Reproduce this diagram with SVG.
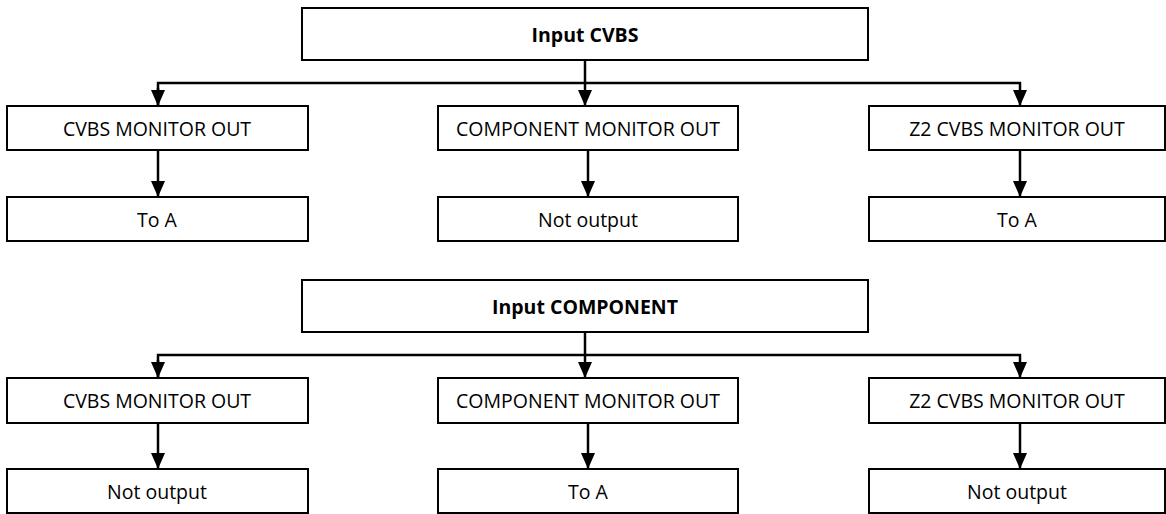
<svg xmlns="http://www.w3.org/2000/svg" width="1166" height="514" viewBox="0 0 1166 514">
<defs>
<style>
.box{fill:#fff;stroke:#000;stroke-width:2}
.t{font-family:"Open Sans","Liberation Sans",sans-serif;font-size:19.5px;fill:#000;text-anchor:middle}
.b{font-weight:bold;font-size:19.5px}
.c{fill:none;stroke:#000;stroke-width:2.5}
</style>
<marker id="ah" markerUnits="userSpaceOnUse" markerWidth="16" markerHeight="14" refX="16" refY="7" orient="auto">
<path d="M0,0 L16,7 L0,14 z" fill="#000"/>
</marker>
</defs>
<g id="connectors">
<path class="c" d="M585,60 V106" marker-end="url(#ah)"/>
<path class="c" d="M158,106 V83 H1020 V106" marker-end="url(#ah)"/>
<path class="c" d="M158,88 V106" marker-end="url(#ah)"/>
<path class="c" d="M158,150 V197" marker-end="url(#ah)"/>
<path class="c" d="M588,150 V197" marker-end="url(#ah)"/>
<path class="c" d="M1020,150 V197" marker-end="url(#ah)"/>
<path class="c" d="M585,332 V378" marker-end="url(#ah)"/>
<path class="c" d="M158,378 V355 H1020 V378" marker-end="url(#ah)"/>
<path class="c" d="M158,360 V378" marker-end="url(#ah)"/>
<path class="c" d="M158,423 V469" marker-end="url(#ah)"/>
<path class="c" d="M588,423 V469" marker-end="url(#ah)"/>
<path class="c" d="M1020,423 V469" marker-end="url(#ah)"/>
</g>
<g id="in1"><rect class="box" x="302" y="8" width="566" height="52"/><text class="t b" x="585" y="42">Input CVBS</text></g>
<g id="a1"><rect class="box" x="7" y="106" width="301" height="44"/><text class="t" x="157" y="136">CVBS MONITOR OUT</text></g>
<g id="b1"><rect class="box" x="438" y="106" width="300" height="44"/><text class="t" x="588" y="136">COMPONENT MONITOR OUT</text></g>
<g id="c1"><rect class="box" x="869" y="106" width="296" height="44"/><text class="t" x="1017" y="136">Z2 CVBS MONITOR OUT</text></g>
<g id="a1o"><rect class="box" x="7" y="197" width="301" height="44"/><text class="t" x="157" y="227">To A</text></g>
<g id="b1o"><rect class="box" x="438" y="197" width="300" height="44"/><text class="t" x="588" y="227">Not output</text></g>
<g id="c1o"><rect class="box" x="869" y="197" width="296" height="44"/><text class="t" x="1017" y="227">To A</text></g>
<g id="in2"><rect class="box" x="302" y="280" width="566" height="52"/><text class="t b" x="585" y="314">Input COMPONENT</text></g>
<g id="a2"><rect class="box" x="7" y="378" width="301" height="45"/><text class="t" x="157" y="408">CVBS MONITOR OUT</text></g>
<g id="b2"><rect class="box" x="438" y="378" width="300" height="45"/><text class="t" x="588" y="408">COMPONENT MONITOR OUT</text></g>
<g id="c2"><rect class="box" x="869" y="378" width="296" height="45"/><text class="t" x="1017" y="408">Z2 CVBS MONITOR OUT</text></g>
<g id="a2o"><rect class="box" x="7" y="469" width="301" height="44"/><text class="t" x="157" y="499">Not output</text></g>
<g id="b2o"><rect class="box" x="438" y="469" width="300" height="44"/><text class="t" x="588" y="499">To A</text></g>
<g id="c2o"><rect class="box" x="869" y="469" width="296" height="44"/><text class="t" x="1017" y="499">Not output</text></g>
</svg>
